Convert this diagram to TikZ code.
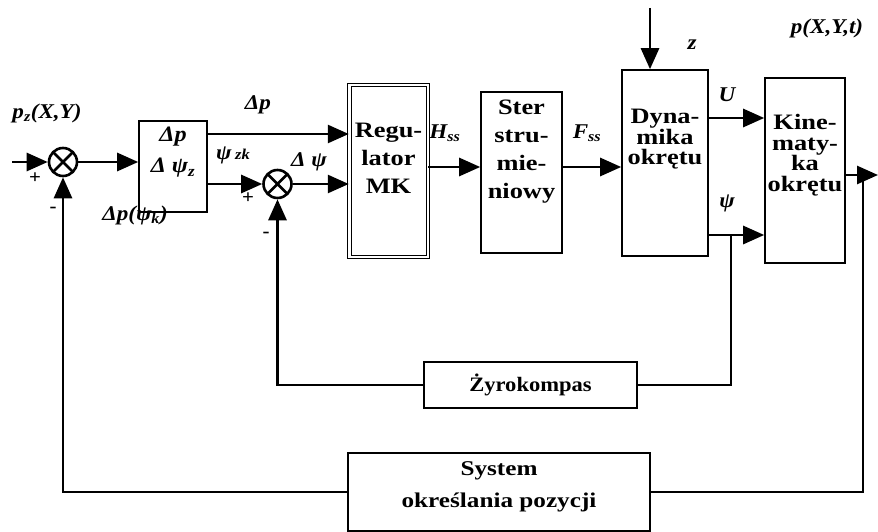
\documentclass[tikz,border=0pt]{standalone}
\usepackage{fontspec}
\setmainfont{Liberation Serif}[FakeStretch=1.1]
\newfontfamily\blokfont{Liberation Serif}[FakeStretch=1.2]
\usetikzlibrary{arrows.meta,positioning,calc}

\begin{document}
\begin{tikzpicture}[x=1pt, y=-1pt,
  font=\bfseries\fontsize{20}{28}\selectfont,
  blok/.style={draw, line width=1.6pt, inner sep=0pt},
  txt/.style={align=center, inner sep=0pt, font=\blokfont\bfseries\fontsize{22}{28}\selectfont},
  tight/.style={txt, font=\blokfont\bfseries\fontsize{22}{20.5}\selectfont},
  lbl/.style={inner sep=0pt, font=\bfseries\itshape\fontsize{21}{24}\selectfont},
  sgn/.style={inner sep=0pt, font=\bfseries\fontsize{19}{19}\selectfont},
  sumnode/.style={circle, draw, line width=2.6pt, minimum size=28pt, inner sep=0pt,
    path picture={\draw[line width=2.6pt]
      (path picture bounding box.north west) -- (path picture bounding box.south east)
      (path picture bounding box.north east) -- (path picture bounding box.south west);}},
  conn/.style={line width=2.8pt},
  arr/.style={conn, -{Triangle[length=21pt,width=18pt]}}]

  \useasboundingbox (0,0) rectangle (878,532);

  % --- blocks ---
  \node[sumnode] (sumA) at (63,162) {};
  \node[blok, minimum width=68pt, minimum height=91pt] (przel) at (173,166.5) {};
  \node[sumnode] (sumB) at (277.5,184) {};
  \node[draw, double, line width=1pt, double distance=2.5pt,
        minimum width=78.5pt, minimum height=171.5pt] (reg) at (388.5,171) {};
  \node[blok, minimum width=81pt, minimum height=161pt] (ster) at (521.5,172.5) {};
  \node[blok, minimum width=86pt, minimum height=186pt] (dyn) at (665,163) {};
  \node[blok, minimum width=80pt, minimum height=185pt] (kin) at (805,170.5) {};
  \node[blok, minimum width=213pt, minimum height=46pt] (zyro) at (530.5,385)
    {\fontsize{20.5}{24}\selectfont Żyrokompas};
  \node[blok, minimum width=302pt, minimum height=78pt] (sys) at (499,492) {};

  % --- texts in blocks ---
  \node[lbl, align=center, font=\bfseries\itshape\fontsize{22}{31}\selectfont,
        below=7pt of przel.north] (przelT) {Δp\\Δ ψ\textsubscript{z}};
  \node[txt, below=38pt of reg.north] (regT) {Regu-\\lator\\MK};
  \node[txt, below=9pt of ster.north] (sterT) {Ster\\stru-\\mie-\\niowy};
  \node[tight, below=40pt of dyn.north] (dynT) {Dyna-\\mika\\okrętu};
  \node[tight, below=37pt of kin.north] (kinT) {Kine-\\maty-\\ka\\okrętu};
  \node[txt, font=\blokfont\bfseries\fontsize{21}{32}\selectfont, below=9pt of sys.north]
    (sysT) {System\\określania pozycji};

  % --- rows of the signal lines ---
  \coordinate (inA) at (12,162);
  \coordinate (rowDp) at (0,134);
  \coordinate (rowH) at (0,167);
  \coordinate (rowU) at (0,118);
  \coordinate (rowPsi) at (0,235);
  \coordinate (zin) at (650,8);
  \coordinate (psiB) at (731,235);
  \coordinate (outE) at (878,175);
  \coordinate (outB) at (863,175);

  % --- forward path ---
  \draw[arr] (inA) -- (sumA.west);
  \draw[arr] (sumA.east) -- (sumA.east -| przel.west);
  \draw[arr] (przel.east |- rowDp) -- (reg.west |- rowDp);
  \draw[arr] (sumB.west -| przel.east) -- (sumB.west);
  \draw[arr] (sumB.east) -- (sumB.east -| reg.west);
  \draw[arr] (reg.east |- rowH) -- (ster.west |- rowH);
  \draw[arr] (ster.east |- rowH) -- (dyn.west |- rowH);
  \draw[arr] (zin) -- (zin |- dyn.north);
  \draw[arr] (dyn.east |- rowU) -- (kin.west |- rowU);
  \draw[arr] (dyn.east |- rowPsi) -- (kin.west |- rowPsi);
  \draw[arr] (kin.east |- outE) -- (outE);

  % --- feedback loops ---
  \draw[conn] (psiB) |- (zyro.east);
  \draw[arr] (zyro.west) -| (sumB.south);
  \draw[conn] (outB) |- (sys.east);
  \draw[arr] (sys.west) -| (sumA.south);

  % --- signal labels ---
  \node[lbl] (pzL) at (47,113) {p\textsubscript{z}(X,Y)};
  \node[lbl] (dpL) at (258,105) {Δp};
  \node[lbl] (dpkL) at (135,215) {Δp(ψ\textsubscript{k})};
  \node[lbl] (psizkL) at (233,155) {ψ\,{\fontsize{15}{15}\selectfont zk}};
  \node[lbl] (dpsiL) at (309,162) {Δ ψ};
  \node[lbl] (hssL) at (445,133) {H\textsubscript{ss}};
  \node[lbl] (fssL) at (587,133) {F\textsubscript{ss}};
  \node[lbl] (zL) at (692,45) {z};
  \node[lbl] (pxytL) at (827,28) {p(X,Y,t)};
  \node[lbl] (uL) at (727,95) {U};
  \node[lbl] (psiL) at (727,203) {ψ};

  % --- signs at the summing points ---
  \node[sgn] (plusA) at (35,178) {+};
  \node[sgn] (minusA) at (53,210) {-};
  \node[sgn] (plusB) at (248,198) {+};
  \node[sgn] (minusB) at (266,235) {-};
\end{tikzpicture}
\end{document}
